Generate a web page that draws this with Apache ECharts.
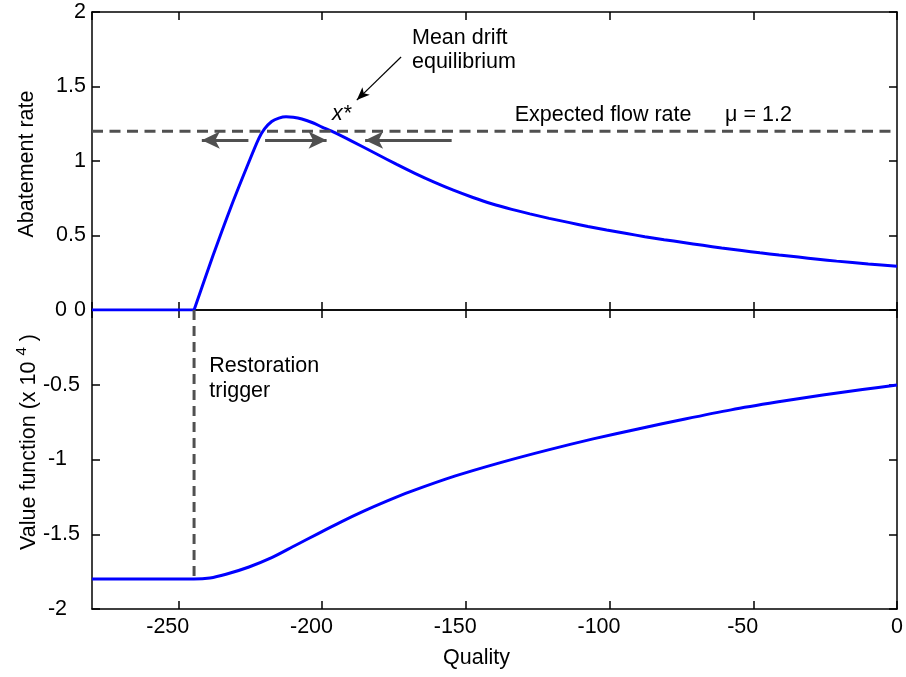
<!DOCTYPE html>
<html>
<head>
<meta charset="utf-8">
<script src="https://cdn.jsdelivr.net/npm/echarts@6/dist/echarts.min.js"></script>
<style>html,body{margin:0;padding:0;background:#fff}#c{width:906px;height:677px}</style>
</head>
<body>
<div id="c"></div>
<script>
// ---------- data ----------
const qualityTop = [-280, -244.5, -238, -231.5, -225.5, -222, -220, -217.5, -215, -212.5, -210, -207, -203, -200, -196.3, -190, -181, -174, -167.7, -161, -154.3, -147.5, -141, -134, -127.7, -121, -114.3, -107.5, -101, -94, -87.7, -81, -74.3, -67.5, -61, -54, -47.7, -41, -34.3, -27.5, -21, -10, 0];
const abatementRate = [0, 0, 0.36, 0.70, 0.99, 1.15, 1.215, 1.265, 1.288, 1.297, 1.294, 1.282, 1.255, 1.228, 1.197, 1.137, 1.047, 0.977, 0.917, 0.858, 0.804, 0.755, 0.713, 0.675, 0.645, 0.615, 0.588, 0.561, 0.537, 0.513, 0.492, 0.472, 0.453, 0.434, 0.416, 0.399, 0.384, 0.369, 0.355, 0.341, 0.328, 0.309, 0.293];
const qualityBottom = [-280, -244.6, -239, -233.4, -225.4, -217.5, -209.5, -201.5, -193.5, -185.5, -177.5, -169.5, -153.6, -137.6, -121.6, -105.7, -89.7, -73.7, -57.7, -41.8, -25.8, -12, 0];
const valueFunction = [-1.80, -1.80, -1.793, -1.768, -1.719, -1.657, -1.577, -1.497, -1.419, -1.346, -1.279, -1.217, -1.110, -1.019, -0.937, -0.862, -0.794, -0.729, -0.668, -0.616, -0.568, -0.532, -0.502];
const expectedFlow = 1.2;          // mu
const restorationTrigger = -244.5; // quality where restoration starts
const valueFloor = -1.8;
const xRange = [-280, 0];
const topYRange = [0, 2];
const bottomYRange = [-2, 0];
const yTickStep = 0.5;
const xTickStep = 50;
// flow arrows: [tail x, tip x] at y level
const flowArrowY = 1.14;
const flowArrows = [[-225.6, -241.8], [-219.8, -198.4], [-154.9, -185.0]];
const pointerArrow = [[-172.5, 1.698], [-187.9, 1.409]];

// ---------- layout ----------
const FONT = '"Liberation Sans", Arial, Helvetica, sans-serif';
const FS = 21.5;
const G = {left: 92, width: 805, top0: 12, h0: 298, top1: 310, h1: 299};

const axisLineStyle = {color: '#000', width: 1.5};
function xAxis(grid, pos, labels) {
  return {
    type: 'value', gridIndex: grid, position: pos, min: xRange[0], max: xRange[1],
    minInterval: xTickStep, maxInterval: xTickStep,
    splitLine: {show: false},
    axisLine: {show: true, onZero: false, lineStyle: axisLineStyle},
    axisTick: {show: true, inside: true, length: 8, lineStyle: axisLineStyle},
    axisLabel: labels ? {
      show: true, margin: 7, showMinLabel: false, color: '#000', fontFamily: FONT, fontSize: FS,
      formatter: v => v < 0 ? '{n|' + v + '}' : '{z|' + v + '}',
      rich: {
        n: {fontFamily: FONT, fontSize: FS, color: '#000', padding: [0, 21, 0, 0]},
        z: {fontFamily: FONT, fontSize: FS, color: '#000'}
      }
    } : {show: false}
  };
}
function yAxis(grid, pos, range, labelCfg) {
  return {
    type: 'value', gridIndex: grid, position: pos, min: range[0], max: range[1], interval: yTickStep,
    splitLine: {show: false},
    axisLine: {show: true, onZero: false, lineStyle: axisLineStyle},
    axisTick: {show: true, inside: true, length: 8, lineStyle: axisLineStyle},
    axisLabel: labelCfg || {show: false}
  };
}

const topPts = qualityTop.map((q, i) => [q, abatementRate[i]]);
const kink = qualityTop.indexOf(restorationTrigger);
const blue = {color: '#0000ff', width: 3};

const option = {
  animation: false,
  backgroundColor: '#fff',
  grid: [
    {left: G.left, width: G.width, top: G.top0, height: G.h0, containLabel: false, outerBoundsMode: 'none'},
    {left: G.left, width: G.width, top: G.top1, height: G.h1, containLabel: false, outerBoundsMode: 'none'}
  ],
  xAxis: [xAxis(0, 'bottom', false), xAxis(0, 'top', false), xAxis(1, 'bottom', true), xAxis(1, 'top', false)],
  yAxis: [
    yAxis(0, 'left', topYRange, {show: true, margin: 6, color: '#000', fontFamily: FONT, fontSize: FS}),
    yAxis(0, 'right', topYRange),
    yAxis(1, 'left', bottomYRange, {
      show: true, margin: 12, color: '#000', fontFamily: FONT, fontSize: FS,
      formatter: v => (v === -1 || v === -2 || v === 0) ? '{p|' + v + '}' : '{q|' + v + '}',
      rich: {
        p: {fontFamily: FONT, fontSize: FS, color: '#000', padding: [0, 13, 0, 0]},
        q: {fontFamily: FONT, fontSize: FS, color: '#000'}
      }
    }),
    yAxis(1, 'right', bottomYRange)
  ],
  series: [
    {
      type: 'line', xAxisIndex: 0, yAxisIndex: 0, z: 3,
      data: topPts.slice(kink),
      showSymbol: false, symbol: 'none', smooth: 0.25,
      lineStyle: blue,
      markLine: {
        silent: true, animation: false, label: {show: false},
        lineStyle: {color: '#000', width: 1.2, type: 'solid'},
        data: [[
          {coord: pointerArrow[0], symbol: 'none'},
          {coord: pointerArrow[1], symbol: 'arrow', symbolSize: [8, 13]}
        ]]
      }
    },
    {
      type: 'line', xAxisIndex: 2, yAxisIndex: 2, z: 3,
      data: qualityBottom.map((q, i) => [q, valueFunction[i]]),
      showSymbol: false, symbol: 'none', smooth: 0.25,
      lineStyle: blue
    },
    {
      type: 'line', xAxisIndex: 0, yAxisIndex: 0, z: 4,
      data: [[xRange[0], expectedFlow], [xRange[1], expectedFlow]],
      showSymbol: false, symbol: 'none',
      lineStyle: {color: '#505050', width: 3, type: [11, 6.5]},
      markLine: {
        silent: true, animation: false, label: {show: false},
        lineStyle: {color: '#505050', width: 3, type: 'solid'},
        data: flowArrows.map(a => [
          {coord: [a[0], flowArrowY], symbol: 'none'},
          {coord: [a[1], flowArrowY], symbol: 'arrow', symbolSize: [13, 18]}
        ])
      }
    },
    {
      type: 'line', xAxisIndex: 2, yAxisIndex: 2, z: 4,
      data: [[restorationTrigger, 0], [restorationTrigger, valueFloor]],
      showSymbol: false, symbol: 'none',
      lineStyle: {color: '#505050', width: 3, type: [10, 6]}
    },
    {
      type: 'line', xAxisIndex: 0, yAxisIndex: 0, z: 3,
      data: topPts.slice(0, kink + 1),
      showSymbol: false, symbol: 'none',
      lineStyle: blue
    }
  ]
};

const chart = echarts.init(document.getElementById('c'), null, {renderer: 'canvas'});
chart.setOption(option);

const P0 = xy => chart.convertToPixel({seriesIndex: 0}, xy);
const P1 = xy => chart.convertToPixel({seriesIndex: 1}, xy);
const baseStyle = {fontFamily: FONT, fontSize: FS, fill: '#000'};
function txt(pt, text, extra) {
  return {type: 'text', x: pt[0], y: pt[1], silent: true, z: 10,
    style: Object.assign({}, baseStyle, {text: text, align: 'left', verticalAlign: 'middle'}, extra || {})};
}
chart.setOption({
  graphic: [
    txt(P0([-168.7, 1.745]), 'Mean drift\nequilibrium', {lineHeight: 24}),
    txt(P0([-193.2, 1.315]), 'x*', {align: 'center', fontStyle: 'italic'}),
    txt(P0([-133.0, 1.311]), 'Expected flow rate'),
    txt(P0([-59.8, 1.311]), 'μ = ' + expectedFlow),
    txt(P1([-239.2, -0.4615]), 'Restoration\ntrigger', {lineHeight: 25}),
    {type: 'text', x: 27, y: 164, rotation: Math.PI / 2, silent: true,
     style: Object.assign({}, baseStyle, {text: 'Abatement rate', align: 'center', verticalAlign: 'middle'})},
    {type: 'text', x: 27, y: 442, rotation: Math.PI / 2, silent: true,
     style: Object.assign({}, baseStyle, {
       text: '{n|Value function (x 10 }{s|4}{n| )}', align: 'center', verticalAlign: 'middle',
       rich: {
         n: {fontFamily: FONT, fontSize: FS, fill: '#000', color: '#000', lineHeight: 26, verticalAlign: 'bottom'},
         s: {fontFamily: FONT, fontSize: 15, fill: '#000', color: '#000', lineHeight: 26, verticalAlign: 'top'}
       }
     })},
    {type: 'text', x: 476.5, y: 658, silent: true,
     style: Object.assign({}, baseStyle, {text: 'Quality', align: 'center', verticalAlign: 'middle'})}
  ]
});
</script>
</body>
</html>
